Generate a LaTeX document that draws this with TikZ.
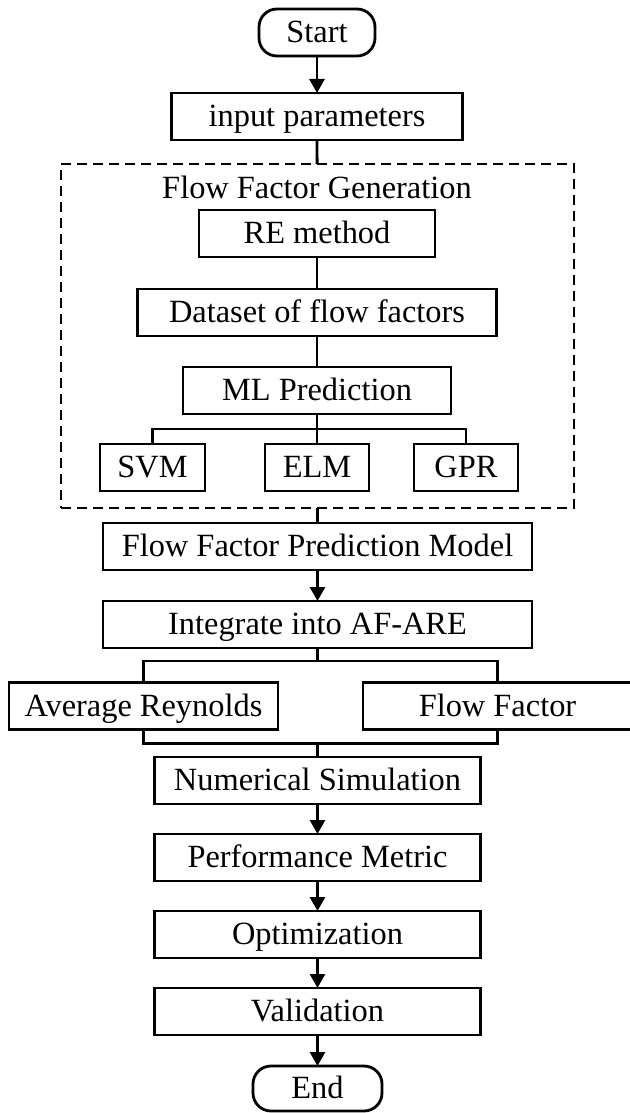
\documentclass[tikz,border=0pt]{standalone}
\usepackage{fontspec}
\setmainfont{Liberation Serif}
\usepackage{tikz}
\usetikzlibrary{arrows.meta, positioning, calc}

\begin{document}
\begin{tikzpicture}[
    node distance=15pt,
    font=\fontsize{16.2}{19}\selectfont,
    line width=1.4pt,
    box/.style={draw, minimum height=23.5pt, inner sep=0pt, outer sep=0pt,
      text height=13pt, text depth=3pt, align=center},
    term/.style={box, rounded corners=9pt},
    dashbox/.style={draw, dash pattern=on 5pt off 3pt, inner sep=0pt, outer sep=0pt},
    arr/.style={-{Triangle[length=7pt, width=7.5pt]}}
  ]
    \useasboundingbox (0,0) rectangle (314.5pt,-556.5pt);

    % top of the chart
    \node[term, minimum width=58pt] (start) at (158.5pt,-16.25pt) {Start};
    \node[box, minimum width=145.5pt, below=18.5pt of start] (input) {input parameters};

    % flow factor generation block
    \node[dashbox, minimum width=256.5pt, minimum height=172pt] (gen) at (158.75pt,-168pt) {};
    \node[box, minimum width=118pt, below=35pt of input] (re) {RE method};
    \node[above=5pt of re, inner sep=0pt] (gentitle) {Flow Factor Generation};
    \node[box, minimum width=179.5pt, below=16pt of re] (data) {Dataset of flow factors};
    \node[box, minimum width=134pt, below=15.5pt of data] (ml) {ML Prediction};
    \node[box, minimum width=52pt, below=of ml] (elm) {ELM};
    \node[box, minimum width=52.5pt, left=30pt of elm] (svm) {SVM};
    \node[box, minimum width=52pt, right=22.5pt of elm] (gpr) {GPR};

    % model and solver
    \node[box, minimum width=214.5pt, below=7.5pt of gen] (model) {Flow Factor Prediction Model};
    \node[box, minimum width=214.5pt, below=15.5pt of model] (integ) {Integrate into AF-ARE};
    \node[box, minimum width=134.5pt] (avg) at (71.75pt,-353pt) {Average Reynolds};
    \node[box, minimum width=134.5pt] (factor) at (248.75pt,-353pt) {Flow Factor};
    \node[box, minimum width=163pt, below=54.5pt of integ] (num) {Numerical Simulation};
    \node[box, minimum width=163pt, below=of num] (perf) {Performance Metric};
    \node[box, minimum width=163pt, below=of perf] (opt) {Optimization};
    \node[box, minimum width=163pt, below=of opt] (valid) {Validation};
    \node[term, minimum width=64.5pt, minimum height=22.5pt, below=15.5pt of valid] (end) {End};

    % split and merge points
    \coordinate (mlsplit) at ($(ml.south)+(0,-7.5pt)$);
    \coordinate (aresplit) at ($(integ.south)+(0,-6.5pt)$);
    \coordinate (aremerge) at ($(num.north)+(0,6.9pt)$);

    % connectors
    \draw[arr] (start) -- (input);
    \draw (input) -- (gen);
    \draw (re) -- (data);
    \draw (data) -- (ml);
    \draw (ml) -- (mlsplit);
    \draw (mlsplit) -| (svm);
    \draw (mlsplit) -- (elm);
    \draw (mlsplit) -| (gpr);
    \draw (gen) -- (model);
    \draw[arr] (model) -- (integ);
    \draw (integ) -- (aresplit);
    \draw (aresplit) -| (avg);
    \draw (aresplit) -| (factor);
    \draw (avg) |- (aremerge);
    \draw (factor) |- (aremerge);
    \draw (aremerge) -- (num);
    \draw[arr] (num) -- (perf);
    \draw[arr] (perf) -- (opt);
    \draw[arr] (opt) -- (valid);
    \draw[arr] (valid) -- (end);
\end{tikzpicture}
\end{document}
